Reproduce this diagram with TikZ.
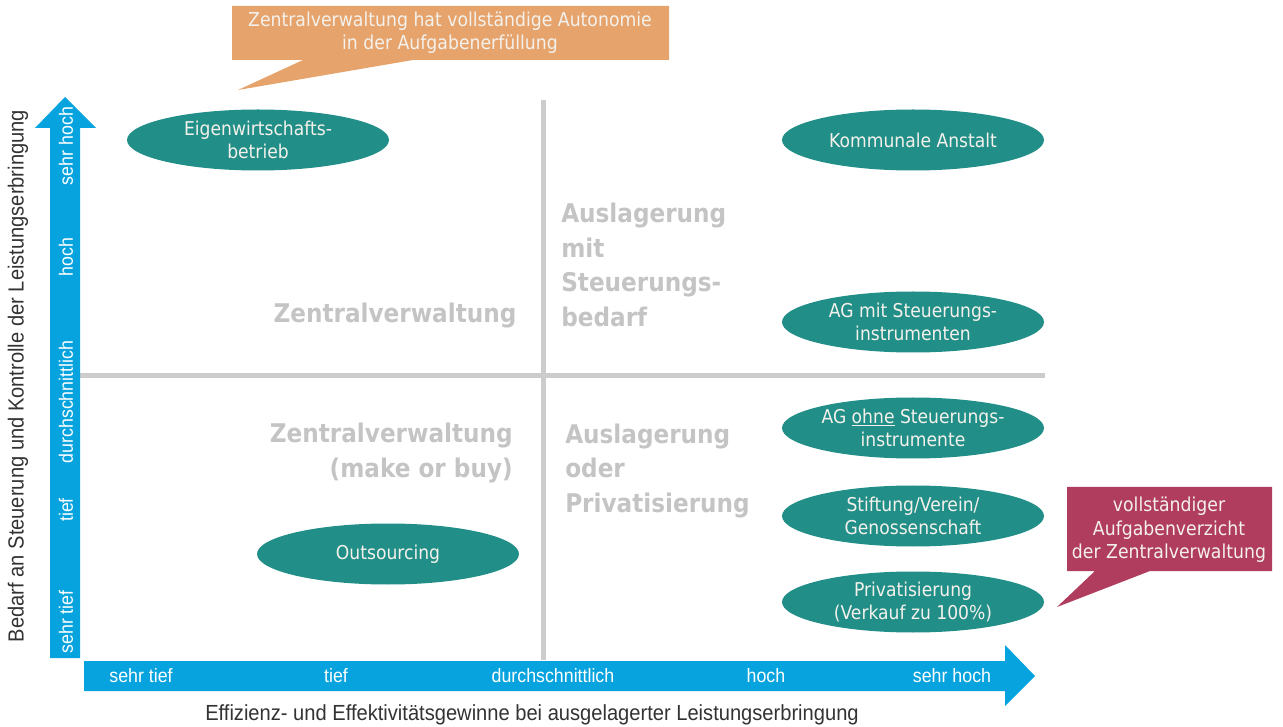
\documentclass[tikz,border=0pt]{standalone}
\usepackage{fontspec}
\setmainfont{DejaVu Sans}[FakeStretch=0.9]
\newfontfamily\condfont{Liberation Sans}[FakeStretch=0.92]
\newdimen\pxu \pxu=0.75pt
\definecolor{teal}{HTML}{218F87}
\definecolor{axisblue}{HTML}{06A3DF}
\definecolor{gridgray}{HTML}{CCCCCC}
\definecolor{labelgray}{HTML}{C4C4C4}
\definecolor{noteorange}{HTML}{E6A46C}
\definecolor{notered}{HTML}{B03C5E}
\definecolor{softwhite}{HTML}{F4F1EC}
\tikzset{
  x=0.75pt, y=-0.75pt,
  form/.style={ellipse, fill=teal, text=softwhite, minimum width=262\pxu,
    minimum height=61\pxu, inner sep=0pt, align=center,
    font=\fontsize{14.3}{17.5}\selectfont},
  quad/.style={text=labelgray, inner sep=0pt,
    font=\bfseries\fontsize{19.3}{26}\selectfont},
  tick/.style={text=white, inner sep=0pt, font=\condfont\fontsize{14.5}{16}\selectfont},
  axistitle/.style={text=black!80, inner sep=0pt, font=\condfont\fontsize{16.4}{18}\selectfont},
  notetext/.style={text=softwhite, inner sep=0pt, align=center,
    font=\fontsize{14.4}{17.5}\selectfont},
}
\usetikzlibrary{shapes.geometric}
\begin{document}
\begin{tikzpicture}
\useasboundingbox (0,0) rectangle (1283,727);

% quadrant grid
\draw[gridgray, line width=5\pxu] (543,100) -- (543,660);
\draw[gridgray, line width=5\pxu] (80,376) -- (1045,376);

% vertical axis arrow
\fill[axisblue] (50,658) -- (50,128) -- (35,128) -- (65,97) -- (96,128)
  -- (80,128) -- (80,658) -- cycle;
% horizontal axis arrow
\fill[axisblue] (84,661) -- (1005,661) -- (1005,645) -- (1035,676)
  -- (1005,706) -- (1005,691) -- (84,691) -- cycle;

% tick labels
\node[tick, rotate=90] (vt1) at (66,622) {sehr tief};
\node[tick, rotate=90] (vt2) at (66,510) {tief};
\node[tick, rotate=90] (vt3) at (66,402) {durchschnittlich};
\node[tick, rotate=90] (vt4) at (66,257) {hoch};
\node[tick, rotate=90] (vt5) at (66,146) {sehr hoch};
\node[tick] (ht1) at (141,676) {sehr tief};
\node[tick] (ht2) at (336,676) {tief};
\node[tick] (ht3) at (553,676) {durchschnittlich};
\node[tick] (ht4) at (766,676) {hoch};
\node[tick] (ht5) at (952,676) {sehr hoch};

% axis titles
\node[axistitle, rotate=90] (ytitle) at (18,376)
  {Bedarf an Steuerung und Kontrolle der Leistungserbringung};
\node[axistitle] (xtitle) at (532,715)
  {Effizienz- und Effektivitätsgewinne bei ausgelagerter Leistungserbringung};

% quadrant labels
\node[quad] (q1) at (395,316) {Zentralverwaltung};
\node[quad, anchor=west, align=left] (q2) at (561,265)
  {Auslagerung\\mit\\Steuerungs-\\bedarf};
\node[quad, anchor=east, align=right] (q3) at (513,453)
  {Zentralverwaltung\\(make or buy)};
\node[quad, anchor=west, align=left] (q4) at (565,471)
  {Auslagerung\\oder\\Privatisierung};

% organisational forms
\node[form] (ewb) at (258,140) {Eigenwirtschafts-\\betrieb};
\node[form] (outs) at (388,554) {Outsourcing};
\node[form] (ka) at (913,140) {Kommunale Anstalt};
\node[form] (agmit) at (913,322) {AG mit Steuerungs-\\instrumenten};
\node[form] (agohne) at (913,428) {AG \underline{ohne} Steuerungs-\\instrumente};
\node[form] (stift) at (913,516) {Stiftung/Verein/\\Genossenschaft};
\node[form] (priv) at (913,602) {Privatisierung\\(Verkauf zu 100\%)};

% callouts
\fill[noteorange] (232,6) -- (669,6) -- (669,60) -- (413,60) -- (238,90)
  -- (303,60) -- (232,60) -- cycle;
\node[notetext] (autonomie) at (450,33)
  {Zentralverwaltung hat vollständige Autonomie\\in der Aufgabenerfüllung};
\fill[notered] (1067,487) -- (1272,487) -- (1272,571) -- (1150,571)
  -- (1057,607) -- (1095,571) -- (1067,571) -- cycle;
\node[notetext] (verzicht) at (1169,530)
  {vollständiger\\Aufgabenverzicht\\der Zentralverwaltung};
\end{tikzpicture}
\end{document}
